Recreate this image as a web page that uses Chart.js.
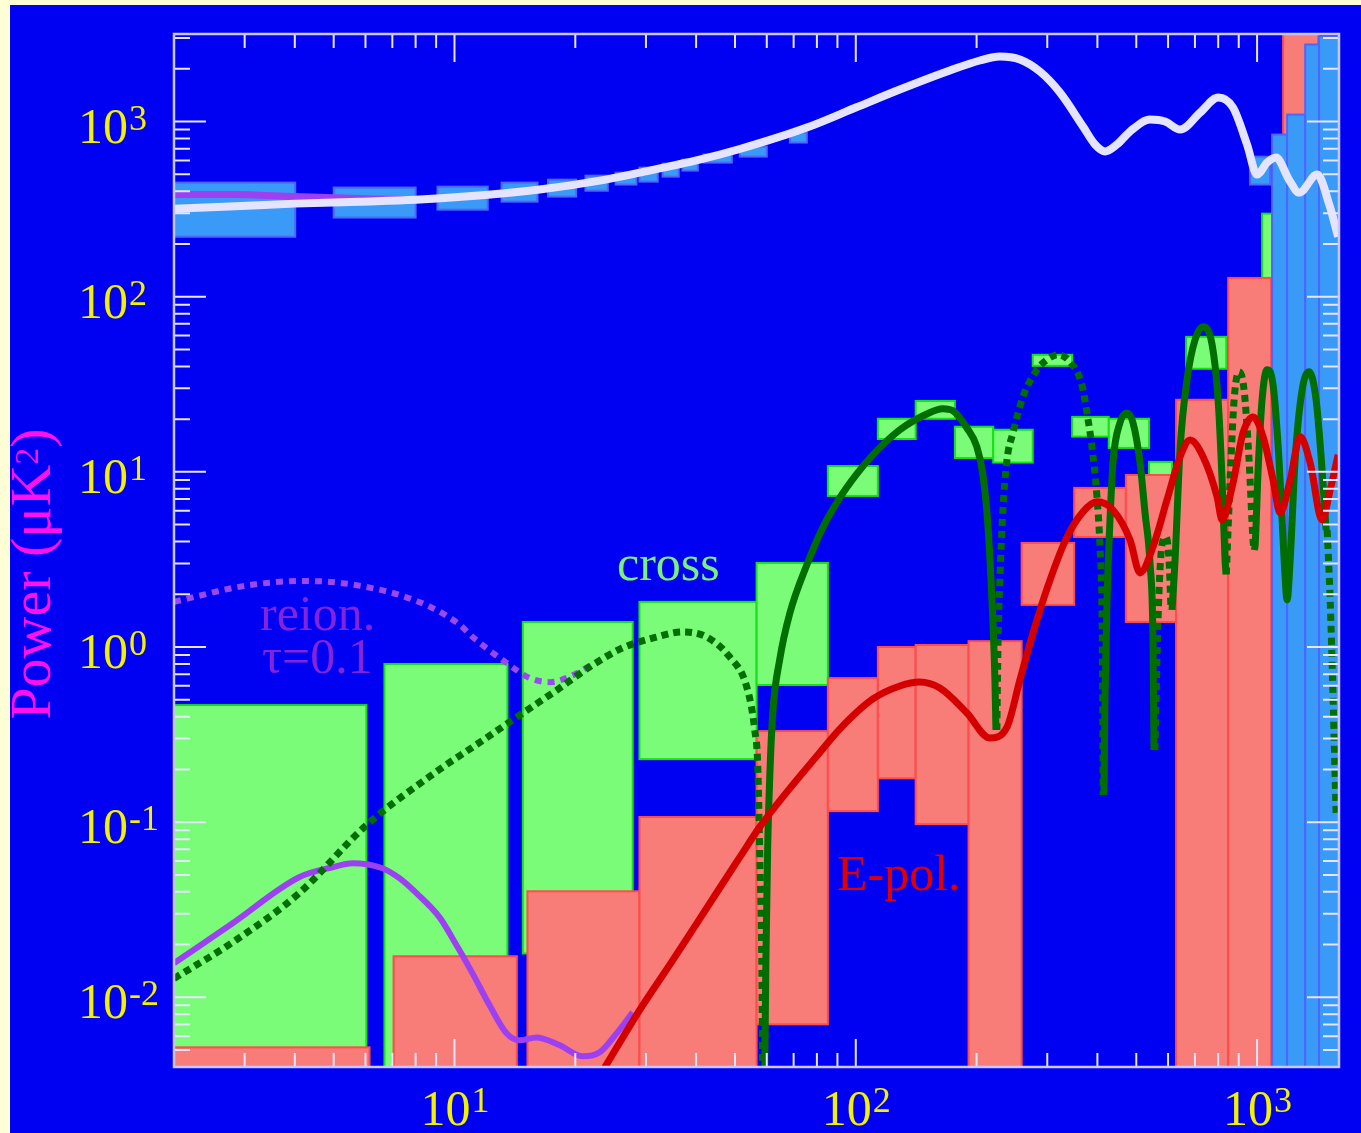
<!DOCTYPE html>
<html>
<head>
<meta charset="utf-8">
<script src="https://cdn.jsdelivr.net/npm/chart.js@4.4.0/dist/chart.umd.min.js"></script>
<style>
  html, body { margin: 0; padding: 0; background: #ffffd6; }
  #wrap { position: absolute; left: 10px; top: 5px; width: 1351px; height: 1128px; background: #0000f2; }
</style>
</head>
<body>
<div id="wrap"><canvas id="spec" width="1351" height="1128"></canvas></div>
<script>
// curves: [multipole l, power uK^2]
const ttModel = [[2.0,318],[2.75,327],[4.0,340],[5.8,349],[8.0,358],[11.5,378],[16.3,409],[23,460],[28.9,511],[40.8,606],[51.4,697],[75.5,924],[100,1202],[128.7,1523],[171.5,1956],[203.8,2232],[228.5,2352],[256.4,2262],[287.6,1931],[322.7,1465],[368.3,937],[394.6,740],[418,675],[447.6,740],[482,877],[541,1026],[590,1000],[643,900],[721,1125],[800,1372],[871,1203],[944,740],[1000,498],[1059,583],[1115,623],[1201,466],[1273,393],[1412,498],[1513,336],[1592,220]];
const ttReion = [[2.0,383],[2.8,383],[4.0,373],[5.8,364],[8.0,358],[11.5,378]];
const teReion = [[2.0,1.81],[2.31,1.96],[2.79,2.17],[3.4,2.32],[4.1,2.38],[4.96,2.35],[6.04,2.2],[7.3,1.98],[8.81,1.67],[10.3,1.34],[11.1,1.14],[13.5,0.81],[15.4,0.665],[17.3,0.63],[19.7,0.69],[22.3,0.81]];
const eeReion = [[2.0,0.01565],[2.8,0.0265],[4.1,0.0485],[4.96,0.0553],[5.57,0.0583],[6.61,0.0546],[7.29,0.0479],[8.04,0.0393],[9.18,0.0286],[10.12,0.0198],[11.09,0.0137],[12.23,0.009],[13.48,0.00623],[14.53,0.00568],[16.0,0.0059],[18.3,0.00532],[20.9,0.0046],[23.0,0.00485],[25.35,0.00623],[27.8,0.0082]];
const eeModel = [[23.4,0.0038],[28.9,0.00843],[35.0,0.0163],[42.5,0.0323],[51.4,0.0631],[57.6,0.0937],[68.5,0.156],[79.9,0.238],[91.2,0.34],[110.3,0.505],[128.8,0.599],[144.4,0.631],[162,0.583],[189.2,0.42],[215.9,0.302],[238.1,0.349],[256.4,0.648],[276.3,1.2],[304.7,2.41],[336,4.25],[368.3,5.91],[399,6.74],[437.4,6.06],[482.3,4.09],[510.8,2.65],[550.3,3.73],[596.4,6.92],[642.7,12.2],[680.8,15.2],[733.5,12.2],[794.9,7.2],[818,5.32],[871,8.65],[922.6,16.7],[977,20.6],[1035,15.85],[1096,9.0],[1141,5.83],[1209,9.0],[1280,15.85],[1356,11.26],[1452,5.32],[1521,7.89],[1592,12.5]];

// cross spectrum, solid = positive, dotted = negative
const teDot1 = [[2.0,0.0128],[2.8,0.0206],[4.1,0.0393],[6.03,0.0961],[9.18,0.2],[11.1,0.268],[14.8,0.42],[18.0,0.568],[21.7,0.769],[26.2,0.987],[31.9,1.14],[37.0,1.22],[42.5,1.14],[48.5,0.877],[53.5,0.591],[56.0,0.336],[57.0,0.206],[57.6,0.0692],[58.3,0.0163],[58.6,0.0035]];
const teSolid1 = [[59.3,0.0035],[59.7,0.0163],[60.3,0.0692],[61.0,0.174],[62.1,0.42],[64.6,0.843],[68.5,1.56],[75.5,2.94],[82.7,4.79],[91.2,7.1],[100.6,9.74],[110.3,12.5],[128.8,17.4],[150.3,21.4],[164.8,22.9],[174.6,22.3],[189.2,17.8],[200.3,13.9],[207.4,9.6],[213.4,4.98],[218.4,1.86],[222.2,0.648],[223.5,0.336]];
const teDot2 = [[224.7,0.336],[226,0.961],[228.6,2.41],[232.6,6.06],[238.1,11.7],[246.4,16.7],[261,26.8],[282.8,38.3],[299.5,43.7],[319,46.6],[341.8,42.5],[366,31.4],[376.8,21.7],[387.7,13.9],[399,7.2],[406,3.73],[410.8,1.56],[412.5,0.498],[413.5,0.143]];
const teSolid2 = [[415.4,0.143],[417.8,0.498],[422.7,1.86],[430,5.32],[437.4,11.3],[455.3,19.05],[474,21.7],[490.7,19.05],[510.8,11.3],[525.7,5.83],[541,3.02],[550.3,1.1],[553.5,0.258]];
const teDot3 = [[556.7,0.258],[566.4,1.43],[579.4,3.83],[593,4.25],[603.3,3.14],[610.3,1.63]];
const teSolid3 = [[614,1.63],[624.6,3.14],[642.7,13.4],[669,33.6],[700.5,56.8],[733.5,67.4],[772.5,53.2],[799.5,25.8],[818,9.0],[832,3.14],[837,2.6]];
const teDot4 = [[838,2.6],[856.6,9.0],[876.4,25.8],[902,37.3],[928,29.4],[955,11.7],[977,4.09],[983,3.58]];
const teSolid4 = [[984,3.58],[989,3.83],[1006,10.3],[1029,25.8],[1059,38.3],[1096,31.4],[1134,11.7],[1168,3.14],[1188,1.86],[1209,3.14],[1244,11.7],[1295,29.4],[1348,37.3],[1403,25.8],[1452,10.3],[1486,4.66]];
const teDot5 = [[1495,4.66],[1521,1.86],[1547,0.498],[1574,0.11]];

// band powers: [l min, l max, low, high]
const teBands = [[2,6.03,0.001,0.466],[6.69,13.55,0.001,0.80],[14.8,27.8,0.0178,1.39],[28.9,56.6,0.229,1.81],[56.6,85.2,0.607,3.02],[85.2,113.5,7.29,10.8],[113.5,141,15.4,20.1],[141,176.6,20.1,25.4],[176.6,220,12.0,18.1],[220,276,11.3,17.4],[276,346,40.3,46.6],[346,427,15.9,20.6],[427,538,13.7,20.1],[538,614,5,11.4],[665,838,38.8,59],[1029,1090,50,298]];
const eeBands = [[2,6.14,0.001,0.00518],[7.05,14.3,0.001,0.01715],[15.2,28.9,0.001,0.0403],[28.9,56.6,0.001,0.107],[56.6,85.2,0.00701,0.331],[85.2,113.5,0.1156,0.665],[113.5,141,0.178,1.0],[141,191,0.0974,1.027],[191,259,0.001,1.08],[259,350,1.74,3.93],[350,471,4.25,8.1],[471,628,1.39,9.6],[628,847,0.001,25.8],[847,1084,0.001,128],[1161,1419,0.001,10000]];
const ttBands = [[2,4.01,220,448],[5,8,283,420],[9.07,12.1,314,425],[13.1,16.1,349,448],[17.1,20.1,373,466],[21.2,24.1,403,491],[25.2,28.4,437,511],[28.9,32.1,454,546],[33,36.2,485,575],[37,40.4,525,606],[41.7,49.1,583,648],[51.4,60,631,719],[68.5,75.5,759,865],[960,1078,437,630],[1090,1188,0.001,843],[1188,1318,0.001,1096],[1318,1427,0.001,2755],[1427,1700,0.001,3060]];

const xMajorTicks = [10, 100, 1000];
const yMajorTicks = [0.01, 0.1, 1, 10, 100, 1000];

function curve(data, color, width, dash) {
    return {
        data: data,
        borderColor: color,
        borderWidth: width,
        borderDash: dash || [],
        pointRadius: 0,
        fill: false,
        cubicInterpolationMode: 'monotone',
        clip: 0
    };
}

function drawBoxes(chart, boxes, fill, edge) {
    const ctx = chart.ctx;
    const xs = chart.scales.x, ys = chart.scales.y;
    ctx.fillStyle = fill;
    ctx.strokeStyle = edge;
    ctx.lineWidth = 2;
    boxes.forEach(b => {
        const x0 = xs.getPixelForValue(b[0]);
        const x1 = xs.getPixelForValue(b[1]);
        const y0 = ys.getPixelForValue(b[3]);
        const y1 = ys.getPixelForValue(b[2]);
        ctx.fillRect(x0, y0, x1 - x0, y1 - y0);
        ctx.strokeRect(x0, y0, x1 - x0, y1 - y0);
    });
}

function drawPower(ctx, exp, x, y, centred) {
    ctx.font = '50px "Liberation Serif"';
    const wBase = ctx.measureText('10').width;
    ctx.font = '36px "Liberation Serif"';
    const wSup = ctx.measureText(exp).width;
    const left = centred ? x - (wBase + wSup) / 2 : x;
    ctx.font = '50px "Liberation Serif"';
    ctx.fillText('10', left, y);
    ctx.font = '36px "Liberation Serif"';
    ctx.fillText(exp, left + wBase + 1, y - 13);
}

const bandPlugin = {
    id: 'bands',
    beforeDatasetsDraw(chart) {
        const a = chart.chartArea, ctx = chart.ctx;
        ctx.save();
        ctx.beginPath();
        ctx.rect(a.left, a.top, a.right - a.left, a.bottom - a.top);
        ctx.clip();
        drawBoxes(chart, teBands, '#7afc78', '#18e018');
        drawBoxes(chart, eeBands, '#f87c78', '#ff4c4c');
        drawBoxes(chart, ttBands, '#3a9af8', '#4c66ff');
        ctx.restore();
    }
};

const framePlugin = {
    id: 'frame',
    afterDraw(chart) {
        const a = chart.chartArea, ctx = chart.ctx;
        const xs = chart.scales.x, ys = chart.scales.y;
        ctx.save();
        ctx.strokeStyle = '#e6e6ff';
        ctx.lineWidth = 2;
        for (let e = 0; e <= 3; e++) {
            for (let m = 1; m <= 9; m++) {
                const px = xs.getPixelForValue(m * Math.pow(10, e));
                if (px < a.left + 2 || px > a.right - 2) continue;
                const len = m === 1 ? 28 : 14;
                ctx.beginPath();
                ctx.moveTo(px, a.top); ctx.lineTo(px, a.top + len);
                ctx.moveTo(px, a.bottom); ctx.lineTo(px, a.bottom - len);
                ctx.stroke();
            }
        }
        for (let e = -3; e <= 3; e++) {
            for (let m = 1; m <= 9; m++) {
                const py = ys.getPixelForValue(m * Math.pow(10, e));
                if (py < a.top + 2 || py > a.bottom - 2) continue;
                const len = m === 1 ? 32 : 16;
                ctx.beginPath();
                ctx.moveTo(a.left, py); ctx.lineTo(a.left + len, py);
                ctx.moveTo(a.right, py); ctx.lineTo(a.right - len, py);
                ctx.stroke();
            }
        }
        ctx.strokeStyle = '#c8c8ff';
        ctx.lineWidth = 2.5;
        ctx.strokeRect(a.left, a.top, a.right - a.left, a.bottom - a.top);

        // tick labels
        ctx.fillStyle = '#f2f200';
        ctx.textAlign = 'left';
        ctx.textBaseline = 'alphabetic';
        xMajorTicks.forEach(v => {
            drawPower(ctx, String(Math.round(Math.log10(v))), xs.getPixelForValue(v), 1120, true);
        });
        yMajorTicks.forEach(v => {
            drawPower(ctx, String(Math.round(Math.log10(v))), 68, ys.getPixelForValue(v) + 21, false);
        });

        // labels inside the plot
        ctx.font = '50px "Liberation Serif"';
        ctx.fillStyle = '#7cf07c';
        ctx.fillText('cross', 607, 575);
        ctx.fillStyle = '#8224dc';
        ctx.fillText('reion.', 250, 625);
        ctx.fillText('\u03c4=0.1', 252, 668);
        ctx.fillStyle = '#e00000';
        ctx.fillText('E-pol.', 827, 885);

        // y axis title
        ctx.translate(40, 569);
        ctx.rotate(-Math.PI / 2);
        ctx.fillStyle = '#ff10ee';
        ctx.font = '58px "Liberation Serif"';
        const w1 = ctx.measureText('Power (\u03bcK').width;
        const w3 = ctx.measureText(')').width;
        ctx.font = '34px "Liberation Serif"';
        const w2 = ctx.measureText('2').width;
        let tx = -(w1 + w2 + w3) / 2;
        ctx.font = '58px "Liberation Serif"';
        ctx.fillText('Power (\u03bcK', tx, 0);
        tx += w1;
        ctx.font = '34px "Liberation Serif"';
        ctx.fillText('2', tx, -12);
        tx += w2;
        ctx.font = '58px "Liberation Serif"';
        ctx.fillText(')', tx, 0);
        ctx.restore();
    }
};

const green = '#006e00';
const dots = [7, 5];

new Chart(document.getElementById('spec'), {
    type: 'line',
    data: {
        datasets: [
            curve(eeModel, '#d40000', 7),
            curve(teSolid1, green, 7),
            curve(teSolid2, green, 7),
            curve(teSolid3, green, 7),
            curve(teSolid4, green, 7),
            curve(teDot1, green, 7, dots),
            curve(teDot2, green, 7, dots),
            curve(teDot3, green, 7, dots),
            curve(teDot4, green, 7, dots),
            curve(teDot5, green, 7, dots),
            curve(eeReion, '#9c40f2', 6),
            curve(teReion, '#9c48f0', 6, [7, 6]),
            curve(ttModel, '#e4e4ff', 8),
            curve(ttReion, '#9c40f2', 7)
        ]
    },
    options: {
        responsive: false,
        animation: false,
        events: [],
        layout: { padding: { left: 164, top: 29, right: 22, bottom: 66 } },
        plugins: { legend: { display: false }, tooltip: { enabled: false } },
        scales: {
            x: { type: 'logarithmic', min: 2, max: 1600, display: false },
            y: { type: 'logarithmic', min: 0.004, max: 3162, display: false }
        }
    },
    plugins: [bandPlugin, framePlugin]
});
</script>
</body>
</html>
